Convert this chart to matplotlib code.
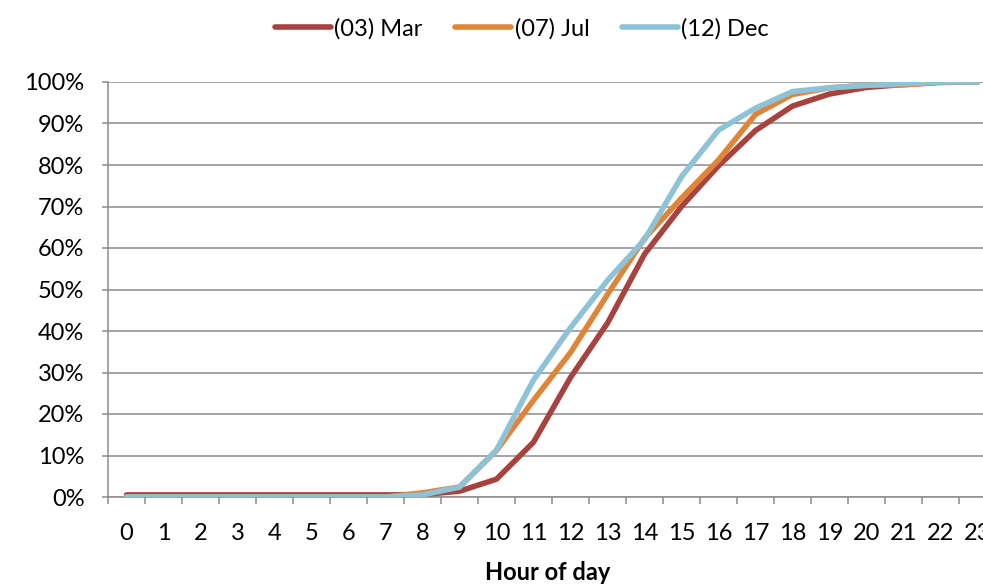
import matplotlib
matplotlib.use("Agg")
import matplotlib.pyplot as plt
from matplotlib.ticker import FixedLocator, PercentFormatter

plt.rcParams['font.family'] = ['Lato', 'DejaVu Sans']

hours = list(range(24))
hour_labels = [str(h) for h in hours]
mar = [0.5, 0.5, 0.5, 0.5, 0.5, 0.5, 0.5, 0.5, 0.6, 1.4, 4.3, 13.2, 28.8, 41.9,
       58.5, 70.0, 79.8, 88.3, 94.2, 97.1, 98.7, 99.4, 99.9, 100.0]
jul = [0, 0, 0, 0, 0, 0, 0, 0, 1.0, 2.4, 11.2, 23.3, 34.8, 48.8,
       62.3, 72.0, 81.2, 92.2, 97.0, 98.6, 99.2, 99.3, 100.0, 100.0]
dec = [0, 0, 0, 0, 0, 0, 0, 0, 0.5, 2.4, 11.3, 28.2, 40.8, 52.2,
       62.0, 77.2, 88.4, 93.7, 97.7, 98.6, 99.2, 99.6, 100.0, 100.0]
series = [("(03) Mar", mar, "#A8423F"),
          ("(07) Jul", jul, "#DE8538"),
          ("(12) Dec", dec, "#8EC2D6")]

W, H = 983, 585
fig = plt.figure(figsize=(W / 100, H / 100), dpi=100)
ax = fig.add_axes([108 / W, (H - 497) / H, 888 / W, 415 / H])

for name, vals, col in series:
    ax.plot(hours, vals, color=col, lw=4.0, label=name,
            solid_capstyle='round', solid_joinstyle='round', zorder=3)

ax.set_xlim(-0.5, 23.5)
ax.set_ylim(0, 100)
ax.yaxis.set_major_locator(FixedLocator(range(0, 101, 10)))
ax.yaxis.set_major_formatter(PercentFormatter(decimals=0))
ax.set_xticks(hours)
ax.set_xticklabels(hour_labels)
ax.xaxis.set_minor_locator(FixedLocator([h - 0.5 for h in hours] + [23.5]))

gray = "#8C8C8C"
ax.grid(axis='y', color=gray, lw=1.1, zorder=1)
for s in ['top', 'right']:
    ax.spines[s].set_visible(False)
for s in ['left', 'bottom']:
    ax.spines[s].set_color(gray)
    ax.spines[s].set_linewidth(1.1)

ax.tick_params(axis='x', which='major', length=0, pad=19, labelsize=17, colors='black')
ax.tick_params(axis='x', which='minor', length=5, width=1.1, color=gray, direction='out')
ax.tick_params(axis='y', which='major', length=4, width=1.1, color=gray, pad=13, labelsize=17)

ax.set_xlabel("Hour of day", fontsize=17, fontweight='bold')
ax.xaxis.set_label_coords((548 - 108) / 888, -(561 - 497) / 415)

fig.legend(loc='center', bbox_to_anchor=(522 / W, 1 - 29 / H), ncol=3, frameon=False,
           fontsize=17, handlelength=2.35, handletextpad=0.15, columnspacing=1.4)

fig.savefig("out.png", dpi=100)
